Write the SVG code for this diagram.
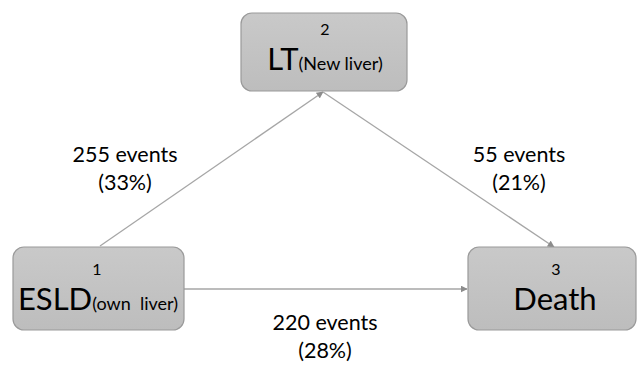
<svg xmlns="http://www.w3.org/2000/svg" width="638" height="367" viewBox="0 0 638 367">
<style>
.box{fill:url(#g);stroke:#9a9a9a;stroke-width:1.2}
.t{font-family:Lato,"Open Sans","Liberation Sans",sans-serif;fill:#000;text-anchor:middle;white-space:pre}
.num{font-size:16px}
.big{font-size:31px}
.sm{font-size:18px}
.lbl{font-size:21.5px}
.c{stroke:#a6a6a6;stroke-width:1.3;fill:none;marker-end:url(#a)}
</style>
<defs>
<linearGradient id="g" x1="0" y1="0" x2="0" y2="1">
<stop offset="0" stop-color="#c9c9c9"/>
<stop offset="1" stop-color="#bdbdbd"/>
</linearGradient>
<marker id="a" viewBox="0 0 10 10" refX="9" refY="5" markerWidth="7" markerHeight="7" markerUnits="userSpaceOnUse" orient="auto">
<path d="M0,0 L10,5 L0,10 z" fill="#8c8c8c"/>
</marker>
</defs>
<g id="connectors">
<line class="c" x1="100" y1="246" x2="323" y2="92"/>
<line class="c" x1="323" y1="92" x2="554" y2="247"/>
<line class="c" x1="184" y1="289" x2="467" y2="289"/>
</g>
<g id="node2">
<rect class="box" x="241" y="13" width="166" height="78" rx="11"/>
<text class="t num" x="325" y="35">2</text>
<text class="t" x="325" y="70"><tspan class="big">LT</tspan><tspan class="sm">(New liver)</tspan></text>
</g>
<g id="node1">
<rect class="box" x="13" y="247" width="171" height="83" rx="11"/>
<text class="t num" x="97" y="275">1</text>
<text class="t" x="98" y="310" xml:space="preserve"><tspan class="big">ESLD</tspan><tspan class="sm">(own  liver)</tspan></text>
</g>
<g id="node3">
<rect class="box" x="468" y="247" width="168" height="83" rx="11"/>
<text class="t num" x="556" y="275">3</text>
<text class="t big" x="555" y="310">Death</text>
</g>
<g id="labels">
<text class="t lbl" x="125" y="162">255 events</text>
<text class="t lbl" x="125" y="190">(33%)</text>
<text class="t lbl" x="519" y="162">55 events</text>
<text class="t lbl" x="519" y="190">(21%)</text>
<text class="t lbl" x="325" y="330">220 events</text>
<text class="t lbl" x="325" y="358">(28%)</text>
</g>
</svg>
